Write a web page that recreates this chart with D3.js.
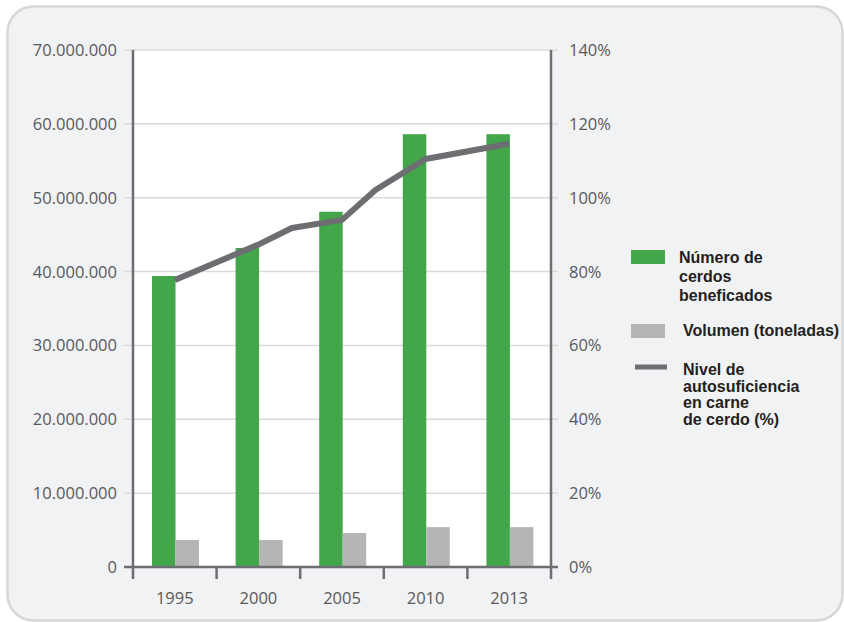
<!DOCTYPE html>
<html>
<head>
<meta charset="utf-8">
<script src="https://cdn.jsdelivr.net/npm/d3@7"></script>
<style>
  html, body { margin: 0; padding: 0; background: #ffffff; }
  svg { display: block; }
</style>
</head>
<body>
<svg id="chart" width="844" height="622"></svg>
<script>
// ---- Data ----
const categories = ["1995", "2000", "2005", "2010", "2013"];
const cerdos = [39400000, 43200000, 48100000, 58600000, 58600000];
const volumen = [3660000, 3660000, 4600000, 5400000, 5400000];
const nivelYears = [1995, 2000, 2002, 2005, 2007, 2010, 2013];
const nivelValues = [77.7, 87.3, 91.8, 94.0, 102.1, 110.5, 114.6];
const leftTicks = [0, 10000000, 20000000, 30000000, 40000000, 50000000, 60000000, 70000000];
const rightTicks = [0, 20, 40, 60, 80, 100, 120, 140];
const legendLabels = [
  ["Número de", "cerdos", "beneficados"],
  ["Volumen (toneladas)"],
  ["Nivel de", "autosuficiencia", "en carne", "de cerdo (%)"]
];

// ---- Layout ----
const svg = d3.select("#chart");
const L = 133, R = 551, T = 50, B = 567;
const green = "#43a64b", gray = "#b5b5b5", lineCol = "#6d6e71", axisCol = "#6d6e71";
const textCol = "#58595b";
const tickFont = "'Open Sans', sans-serif";

// card
svg.append("rect")
  .attr("x", 7.5).attr("y", 6.5).attr("width", 835).attr("height", 614)
  .attr("rx", 26).attr("ry", 26)
  .attr("fill", "#f1f2f4").attr("stroke", "#d6d7d9").attr("stroke-width", 2.5);

// plot area
svg.append("rect").attr("x", L).attr("y", T).attr("width", R - L).attr("height", B - T).attr("fill", "#ffffff");

const x0 = d3.scaleBand().domain(categories).range([L, R]).padding(0);
const bw = x0.bandwidth();
const x1 = d3.scaleBand().domain(["cerdos", "volumen"]).range([19, 66]).padding(0);
const yL = d3.scaleLinear().domain([0, 70000000]).range([B, T]);
const yR = d3.scaleLinear().domain([0, 140]).range([B, T]);
const xLine = d3.scaleLinear()
  .domain(categories.map(Number))
  .range(categories.map(c => x0(c) + bw / 2));

const fmtL = d => d === 0 ? "0" : d3.format(",")(d).replace(/,/g, ".");

// gridlines (light) with tick extensions
svg.append("g").selectAll("line").data(leftTicks.filter(d => d > 0)).join("line")
  .attr("x1", 124).attr("x2", 558)
  .attr("y1", d => yL(d)).attr("y2", d => yL(d))
  .attr("stroke", "#d9dadc").attr("stroke-width", 1.5);

// bars
const g = svg.append("g");
categories.forEach((c, i) => {
  g.append("rect")
    .attr("x", x0(c) + x1("cerdos")).attr("width", x1.bandwidth())
    .attr("y", yL(cerdos[i])).attr("height", yL(0) - yL(cerdos[i]))
    .attr("fill", green);
  g.append("rect")
    .attr("x", x0(c) + x1("volumen")).attr("width", x1.bandwidth())
    .attr("y", yL(volumen[i])).attr("height", yL(0) - yL(volumen[i]))
    .attr("fill", gray);
});

// line
const line = d3.line().x((d, i) => xLine(nivelYears[i])).y(d => yR(d));
svg.append("path").datum(nivelValues)
  .attr("d", line)
  .attr("fill", "none").attr("stroke", lineCol).attr("stroke-width", 6)
  .attr("stroke-linejoin", "round");

// axes lines
svg.append("line").attr("x1", L).attr("x2", L).attr("y1", T).attr("y2", 579)
  .attr("stroke", axisCol).attr("stroke-width", 2.5);
svg.append("line").attr("x1", R).attr("x2", R).attr("y1", T).attr("y2", 579)
  .attr("stroke", axisCol).attr("stroke-width", 2.5);
svg.append("line").attr("x1", 124).attr("x2", 558).attr("y1", B).attr("y2", B)
  .attr("stroke", axisCol).attr("stroke-width", 2.5);
// category boundary ticks
svg.append("g").selectAll("line").data(categories.slice(1)).join("line")
  .attr("x1", d => x0(d)).attr("x2", d => x0(d))
  .attr("y1", B).attr("y2", 579)
  .attr("stroke", axisCol).attr("stroke-width", 2.5);

// left tick labels
svg.append("g").selectAll("text").data(leftTicks).join("text")
  .attr("x", 117).attr("y", d => yL(d)).attr("dy", "0.36em")
  .attr("text-anchor", "end")
  .attr("font-family", tickFont).attr("font-size", 16.5).attr("fill", textCol)
  .text(fmtL);

// right tick labels
svg.append("g").selectAll("text").data(rightTicks).join("text")
  .attr("x", 569).attr("y", d => yR(d)).attr("dy", "0.36em")
  .attr("text-anchor", "start")
  .attr("font-family", tickFont).attr("font-size", 16.5).attr("fill", textCol)
  .text(d => d + "%");

// x labels
svg.append("g").selectAll("text").data(categories).join("text")
  .attr("x", d => x0(d) + bw / 2).attr("y", 604)
  .attr("text-anchor", "middle")
  .attr("font-family", tickFont).attr("font-size", 16.5).attr("fill", textCol)
  .text(d => d);

// legend
const lg = svg.append("g").attr("font-family", "'Liberation Sans', Arial, sans-serif")
  .attr("font-weight", "bold").attr("font-size", 16).attr("fill", "#231f20");
lg.append("rect").attr("x", 631).attr("y", 250).attr("width", 34).attr("height", 14).attr("fill", green);
lg.append("text").attr("x", 679).attr("y", 263)
  .selectAll("tspan").data(legendLabels[0]).join("tspan")
  .attr("x", 679).attr("dy", (d, i) => i === 0 ? 0 : 19).text(d => d);
lg.append("rect").attr("x", 631).attr("y", 324).attr("width", 34).attr("height", 14).attr("fill", gray);
lg.append("text").attr("x", 683).attr("y", 336).text(legendLabels[1][0]);
lg.append("line").attr("x1", 635).attr("x2", 667).attr("y1", 367).attr("y2", 367)
  .attr("stroke", lineCol).attr("stroke-width", 5);
lg.append("text").attr("x", 683).attr("y", 375)
  .selectAll("tspan").data(legendLabels[2]).join("tspan")
  .attr("x", 683).attr("dy", (d, i) => i === 0 ? 0 : 16.5).text(d => d);
</script>
</body>
</html>
